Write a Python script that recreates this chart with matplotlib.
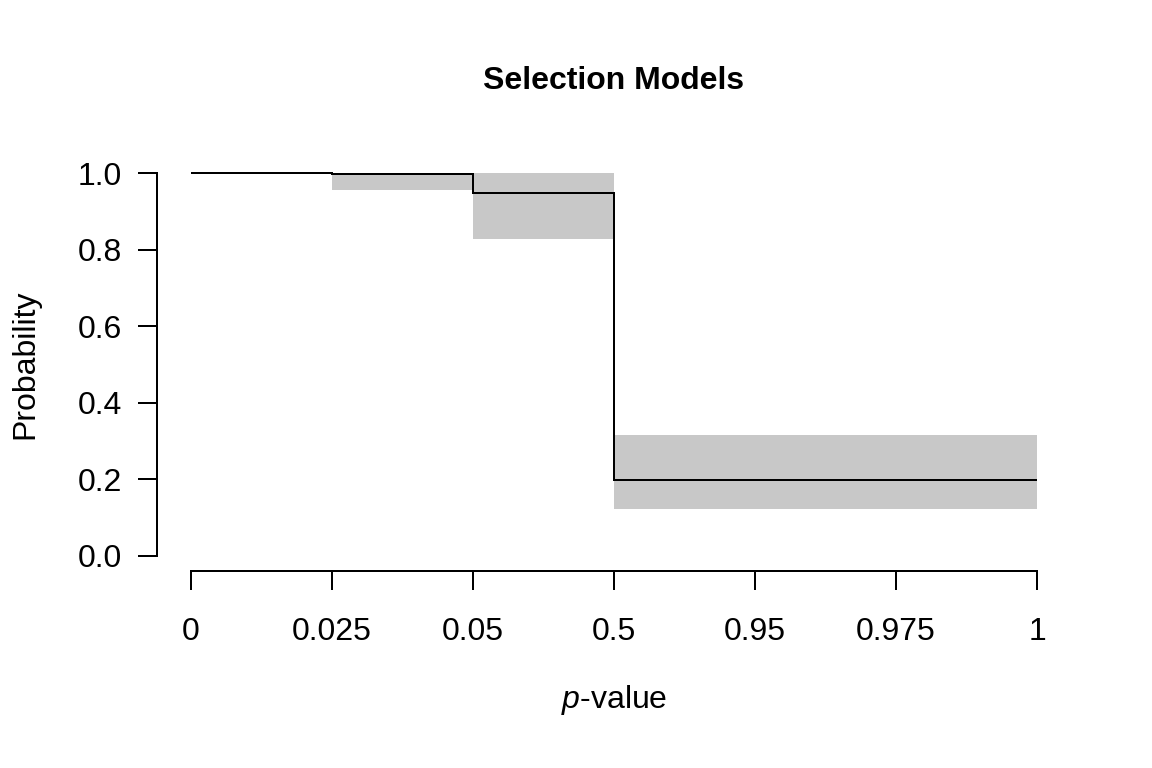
import matplotlib
matplotlib.use("Agg")
import matplotlib.pyplot as plt
import numpy as np

plt.rcParams['font.family'] = ['Liberation Sans', 'DejaVu Sans']
plt.rcParams['mathtext.fontset'] = 'custom'
plt.rcParams['mathtext.it'] = 'Liberation Sans:italic'
plt.rcParams['mathtext.rm'] = 'Liberation Sans'

cut_labels = ["0", "0.025", "0.05", "0.5", "0.95", "0.975", "1"]
estimate = [1.0, 0.998, 0.948, 0.198, 0.198, 0.198]
lower = [1.0, 0.956, 0.828, 0.122, 0.122, 0.122]
upper = [1.0, 1.0, 1.0, 0.316, 0.316, 0.316]
y_ticks = [0.0, 0.2, 0.4, 0.6, 0.8, 1.0]

W, H = 1152, 768
fig = plt.figure(figsize=(6, 4), dpi=192)
left, right, top, bottom = 157, 1071, 157.7, 571.3
ax = fig.add_axes([left / W, 1 - bottom / H, (right - left) / W, (bottom - top) / H])

edges = np.arange(len(cut_labels))
ax.stairs(upper, edges, baseline=lower, fill=True, color="#c8c8c8", linewidth=0)
ax.stairs(estimate, edges, baseline=None, color="black", linewidth=0.75)

n = len(cut_labels) - 1
ax.set_xlim(-0.04 * n, n * 1.04)
ax.set_ylim(-0.04, 1.04)

for s in ["top", "right"]:
    ax.spines[s].set_visible(False)
ax.spines["left"].set_bounds(0, 1)
ax.spines["bottom"].set_bounds(0, n)
for s in ["left", "bottom"]:
    ax.spines[s].set_linewidth(0.75)

ax.set_xticks(edges)
ax.set_xticklabels(cut_labels)
ax.set_yticks(y_ticks)
ax.set_yticklabels([f"{v:.1f}" for v in y_ticks])
ax.tick_params(axis="both", length=7.2, width=0.75, labelsize=12, direction="out")
ax.tick_params(axis="x", pad=10)
ax.tick_params(axis="y", pad=6)

fig.text(25 / W, 1 - 364 / H, "Probability", rotation=90, ha="center", va="center", fontsize=12)
fig.text(614 / W, 1 - 700 / H, "$p$-value", ha="center", va="center", fontsize=12)
fig.text(614 / W, 1 - 81 / H, "Selection Models", ha="center", va="center", fontsize=12, fontweight="bold")

fig.savefig("out.png", dpi=192)
